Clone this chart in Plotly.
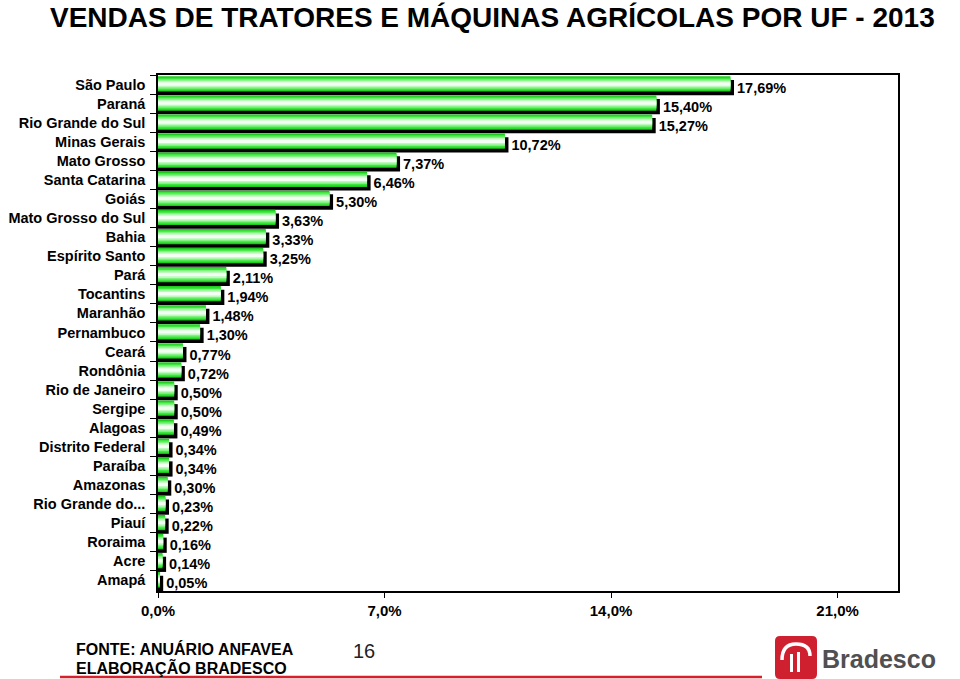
import plotly.graph_objects as go

states = ["São Paulo", "Paraná", "Rio Grande do Sul", "Minas Gerais", "Mato Grosso",
          "Santa Catarina", "Goiás", "Mato Grosso do Sul", "Bahia", "Espírito Santo",
          "Pará", "Tocantins", "Maranhão", "Pernambuco", "Ceará", "Rondônia",
          "Rio de Janeiro", "Sergipe", "Alagoas", "Distrito Federal", "Paraíba",
          "Amazonas", "Rio Grande do...", "Piauí", "Roraima", "Acre", "Amapá"]
shares = [17.69, 15.40, 15.27, 10.72, 7.37, 6.46, 5.30, 3.63, 3.33, 3.25,
          2.11, 1.94, 1.48, 1.30, 0.77, 0.72, 0.50, 0.50, 0.49, 0.34, 0.34,
          0.30, 0.23, 0.22, 0.16, 0.14, 0.05]
x_ticks = [0, 7, 14, 21]
x_tick_labels = ["0,0%", "7,0%", "14,0%", "21,0%"]

W, H = 960, 679
L, R, T, B = 158, 898, 75, 591


def px(x):
    return (x - L) / (R - L)


def py(y):
    return (B - y) / (B - T)


FONT = "Liberation Sans, Arial, sans-serif"
fig = go.Figure()

# shadow bars (drawn first, shifted right/down)
shadow_dx = 0.11
fig.add_trace(go.Bar(
    y=states, x=[v + shadow_dx for v in shares], orientation="h",
    width=0.8, offset=-0.4 + 0.16,
    marker=dict(color="#000000", line=dict(width=0)),
    text=[f"{v:.2f}".replace(".", ",") + "%" for v in shares],
    textposition="outside", cliponaxis=False, constraintext="none",
    outsidetextfont=dict(family=FONT, size=14.5, color="#000000", weight="bold"),
    hoverinfo="skip", showlegend=False,
))

layers = [(0.8, "#1ccc1c"), (0.66, "#3fe53f"), (0.5, "#7ff27f"), (0.34, "#bdf9bd"), (0.18, "#f2fff2")]
for w, c in layers:
    fig.add_trace(go.Bar(
        y=states, x=shares, orientation="h", width=w, offset=-w / 2 - 0.03,
        marker=dict(color=c, line=dict(width=0)),
        hoverinfo="skip", showlegend=False,
    ))

fig.update_layout(
    width=W, height=H, barmode="overlay", bargap=0.2,
    paper_bgcolor="white", plot_bgcolor="white",
    margin=dict(l=L, r=W - R, t=T, b=H - B, pad=0),
    separators=",.",
    font=dict(family=FONT, size=14, color="#000000"),
    showlegend=False,
)
fig.update_xaxes(
    automargin=False,
    range=[0, (R - L) / 32.36], tickvals=x_ticks, ticktext=x_tick_labels,
    ticks="outside", ticklen=5, tickcolor="#000", showgrid=False, zeroline=False,
    showline=True, linecolor="#000", linewidth=1.5, mirror=True,
    tickfont=dict(family=FONT, size=15, color="#000", weight="bold"),
)
fig.update_yaxes(
    automargin=False,
    categoryorder="array", categoryarray=states, autorange="reversed",
    ticks="outside", ticklen=6, tickcolor="#000", tickson="boundaries",
    showgrid=False, showline=True, linecolor="#000", linewidth=1.5, mirror=True,
    tickfont=dict(family=FONT, size=14.5, color="#000", weight="bold"), ticklabelstandoff=8,
)

ann = []
ann.append(dict(text="<b>VENDAS DE TRATORES E MÁQUINAS AGRÍCOLAS POR UF - 2013</b>",
                xref="paper", yref="paper", x=px(492), y=py(17), xanchor="center", yanchor="middle",
                showarrow=False, font=dict(family=FONT, size=28, color="#000")))
ann.append(dict(text="<b>FONTE: ANUÁRIO ANFAVEA</b>", xref="paper", yref="paper",
                x=px(74), y=py(649), xanchor="left", yanchor="middle", showarrow=False,
                font=dict(family=FONT, size=16, color="#000")))
ann.append(dict(text="<b>ELABORAÇÃO BRADESCO</b>", xref="paper", yref="paper",
                x=px(74), y=py(667), xanchor="left", yanchor="middle", showarrow=False,
                font=dict(family=FONT, size=16, color="#000")))
ann.append(dict(text="16", xref="paper", yref="paper",
                x=px(364), y=py(651), xanchor="center", yanchor="middle", showarrow=False,
                font=dict(family=FONT, size=20, color="#222")))
ann.append(dict(text="<b>Bradesco</b>", xref="paper", yref="paper",
                x=px(820), y=py(659), xanchor="left", yanchor="middle", showarrow=False,
                font=dict(family=FONT, size=25, color="#505052")))
fig.update_layout(annotations=ann)

shapes = []
shapes.append(dict(type="line", xref="paper", yref="paper", x0=px(60), x1=px(762),
                   y0=py(677), y1=py(677), line=dict(color="#d6202b", width=2.5)))


def rr(x0, y0, x1, y1, r):
    return (f"M {px(x0+r)},{py(y0)} L {px(x1-r)},{py(y0)} Q {px(x1)},{py(y0)} {px(x1)},{py(y0+r)} "
            f"L {px(x1)},{py(y1-r)} Q {px(x1)},{py(y1)} {px(x1-r)},{py(y1)} "
            f"L {px(x0+r)},{py(y1)} Q {px(x0)},{py(y1)} {px(x0)},{py(y1-r)} "
            f"L {px(x0)},{py(y0+r)} Q {px(x0)},{py(y0)} {px(x0+r)},{py(y0)} Z")


shapes.append(dict(type="path", xref="paper", yref="paper", path=rr(775, 636, 817, 679, 5),
                   fillcolor="#cf2030", line=dict(width=0)))
arch = (f"M {px(782)},{py(660)} Q {px(782)},{py(644)} {px(796)},{py(644)} "
        f"Q {px(810)},{py(644)} {px(810)},{py(656)}")
shapes.append(dict(type="path", xref="paper", yref="paper", path=arch,
                   line=dict(color="white", width=3.5)))
shapes.append(dict(type="rect", xref="paper", yref="paper", x0=px(790), x1=px(793),
                   y0=py(672), y1=py(654), fillcolor="white", line=dict(width=0)))
shapes.append(dict(type="rect", xref="paper", yref="paper", x0=px(797), x1=px(800),
                   y0=py(672), y1=py(652), fillcolor="white", line=dict(width=0)))
fig.update_layout(shapes=shapes)

fig.write_html("out.html", config={"displayModeBar": False},
               post_script="document.body.style.margin='0';document.body.style.padding='0';")
